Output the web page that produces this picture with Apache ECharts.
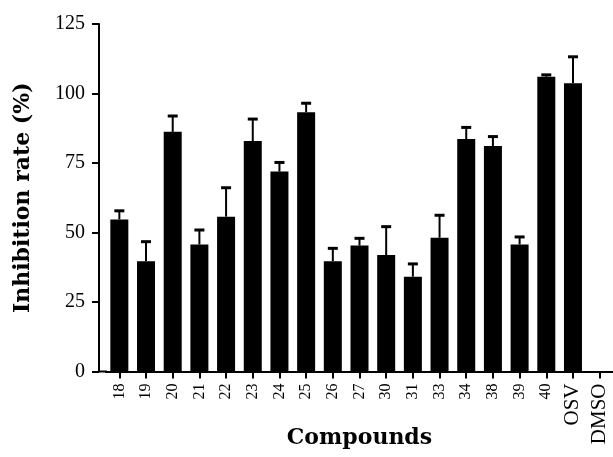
<!DOCTYPE html>
<html>
<head>
<meta charset="utf-8">
<script src="https://cdn.jsdelivr.net/npm/echarts@6/dist/echarts.min.js"></script>
<style>
html,body{margin:0;padding:0;background:#fff;}
#chart{width:613px;height:457px;}
</style>
</head>
<body>
<div id="chart"></div>
<script>
// ---- data ----
const categories = ['18','19','20','21','22','23','24','25','26','27','30','31','33','34','38','39','40','OSV','DMSO'];
const means  = [54.7, 39.7, 86.2, 45.7, 55.7, 82.9, 71.9, 93.3, 39.7, 45.3, 41.9, 34.1, 48.1, 83.6, 81.1, 45.7, 106.0, 103.7, 0];
const errors = [3.1, 7.0, 5.7, 5.2, 10.4, 7.9, 3.3, 3.2, 4.6, 2.6, 10.2, 4.6, 8.1, 4.2, 3.4, 2.7, 0.7, 9.5, 0];
const yMin = 0, yMax = 125, yStep = 25;

// ---- layout ----
const W = 613, H = 457;
const gridLeft = 106, gridRight = 0, gridTop = 24, gridBottom = 85.5;
const yAxisOffset = 7;

const chart = echarts.init(document.getElementById('chart'), null, {renderer: 'canvas'});

const errData = means.map((m, i) => [i, m, errors[i]]);

const option = {
  animation: false,
  backgroundColor: '#fff',
  grid: {left: gridLeft, right: gridRight, top: gridTop, bottom: gridBottom, containLabel: false, outerBoundsMode: 'none'},
  xAxis: {
    type: 'category',
    data: categories,
    boundaryGap: true,
    name: 'Compounds',
    nameLocation: 'middle',
    nameGap: 56,
    nameMoveOverlap: false,
    nameTextStyle: {fontFamily: 'DejaVu Serif', fontWeight: 'bold', fontSize: 22, color: '#000', verticalAlign: 'top'},
    axisLine: {lineStyle: {color: '#000', width: 2}},
    axisTick: {show: true, alignWithLabel: true, length: 7, lineStyle: {color: '#000', width: 2}},
    axisLabel: {
      interval: 0,
      rotate: 90,
      margin: 12,
      color: '#000',
      fontFamily: 'Liberation Serif',
      fontSize: 16,
      formatter: v => (/^\d+$/.test(v) ? v : '{big|' + v + '}'),
      rich: {big: {fontFamily: 'Liberation Serif', fontSize: 21, color: '#000'}}
    },
    splitLine: {show: false}
  },
  yAxis: {
    type: 'value',
    min: yMin, max: yMax, interval: yStep,
    offset: yAxisOffset,
    name: 'Inhibition rate (%)',
    nameLocation: 'middle',
    nameGap: 65,
    nameMoveOverlap: false,
    nameTextStyle: {fontFamily: 'DejaVu Serif', fontWeight: 'bold', fontSize: 22, color: '#000'},
    axisLine: {show: true, lineStyle: {color: '#000', width: 2}},
    axisTick: {show: true, length: 7, lineStyle: {color: '#000', width: 2}},
    axisLabel: {margin: 14, color: '#000', fontFamily: 'Liberation Serif', fontSize: 20},
    splitLine: {show: false}
  },
  series: [
    {
      type: 'bar',
      data: means,
      barWidth: 18,
      itemStyle: {color: '#000'},
      z: 2
    },
    {
      type: 'custom',
      data: errData,
      encode: {x: 0, y: 1},
      z: 3,
      renderItem: function (params, api) {
        const i = api.value(0), m = api.value(1), e = api.value(2);
        if (!(m > 0)) return null;
        const base = api.coord([i, m]);
        const top = api.coord([i, m + e]);
        return {
          type: 'group',
          children: [
            {type: 'line', shape: {x1: base[0], y1: base[1], x2: top[0], y2: top[1]}, style: {stroke: '#000', lineWidth: 2}},
            {type: 'line', shape: {x1: top[0] - 5, y1: top[1], x2: top[0] + 5, y2: top[1]}, style: {stroke: '#000', lineWidth: 3}}
          ]
        };
      }
    }
  ],
  graphic: [
    {
      type: 'line',
      shape: {x1: gridLeft - yAxisOffset, y1: H - gridBottom, x2: gridLeft + 1, y2: H - gridBottom},
      style: {stroke: '#000', lineWidth: 2}
    }
  ]
};
chart.setOption(option);
</script>
</body>
</html>
